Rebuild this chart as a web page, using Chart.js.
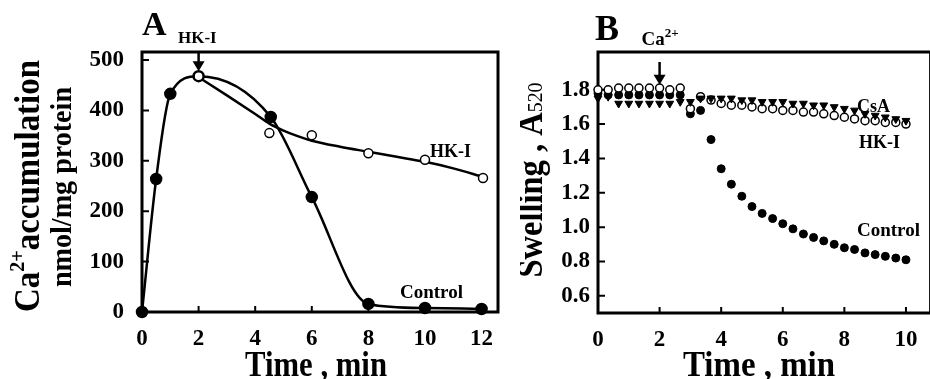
<!DOCTYPE html>
<html>
<head>
<meta charset="utf-8">
<script src="https://cdn.jsdelivr.net/npm/chart.js@4.4.1/dist/chart.umd.min.js"></script>
<style>
  html, body { margin: 0; padding: 0; background: #fff; overflow: hidden; }
  body { width: 930px; height: 379px; position: relative; }
  #wrapA { position: absolute; left: 0; top: 0; width: 510px; height: 379px; }
  #wrapB { position: absolute; left: 520px; top: 0; width: 440px; height: 379px; }
</style>
</head>
<body>
<div id="wrapA"><canvas id="chartA"></canvas></div>
<div id="wrapB"><canvas id="chartB"></canvas></div>
<script>
// panel A: Ca2+ accumulation (nmol/mg protein) vs time (min)
const timeA = [0, 0.5, 1, 2, 4.55, 6, 8, 10, 12];
const controlA = [0, 264, 433, 468, 387, 228, 16, 8, 6];
const timeHkA = [2, 4.5, 6, 8, 10, 12.05];
const hkA = [468, 355, 351, 315, 302, 266];
// the HK-I line is a fitted curve that does not pass through every point
const timeHkFitA = [2, 3, 4, 4.5, 5, 5.5, 6, 7, 8, 9, 10, 11, 12.05];
const hkFitA = [466, 430, 393, 374, 360, 349, 340, 328, 318, 308, 298, 285, 268];
const xTicksA = [0, 2, 4, 6, 8, 10, 12];
const yTicksA = [0, 100, 200, 300, 400, 500];

// panel B: swelling (A520) vs time (min)
const timeB = [0, 0.33, 0.67, 1, 1.33, 1.67, 2, 2.33, 2.67, 3, 3.33, 3.67, 4, 4.33, 4.67, 5,
  5.33, 5.67, 6, 6.33, 6.67, 7, 7.33, 7.67, 8, 8.33, 8.67, 9, 9.33, 9.67, 10];
const controlB = [1.78, 1.77, 1.77, 1.77, 1.77, 1.77, 1.77, 1.77, 1.77, 1.66, 1.68, 1.51, 1.34, 1.25, 1.18, 1.12,
  1.08, 1.05, 1.02, 0.99, 0.96, 0.94, 0.92, 0.90, 0.88, 0.87, 0.85, 0.84, 0.83, 0.82, 0.81];
const hkB = [1.80, 1.80, 1.81, 1.81, 1.81, 1.81, 1.81, 1.80, 1.81, 1.69, 1.76, 1.74, 1.72, 1.71, 1.71, 1.70,
  1.69, 1.69, 1.68, 1.68, 1.67, 1.67, 1.66, 1.65, 1.64, 1.63, 1.62, 1.62, 1.61, 1.61, 1.60];
const csaB = [1.75, 1.76, 1.72, 1.72, 1.72, 1.72, 1.72, 1.72, 1.73, 1.73, 1.75, 1.75, 1.75, 1.75, 1.74, 1.74,
  1.73, 1.73, 1.73, 1.72, 1.72, 1.71, 1.71, 1.70, 1.69, 1.68, 1.66, 1.65, 1.64, 1.63, 1.62];
const xTicksB = [0, 2, 4, 6, 8, 10];
const yTicksB = [0.6, 0.8, 1.0, 1.2, 1.4, 1.6, 1.8];

const serif = "'Liberation Serif', 'DejaVu Serif', serif";
const tickFont = { family: serif, size: 23, weight: 'bold' };

function pts(xs, ys) {
  return xs.map((x, i) => ({ x: x, y: ys[i] }));
}

function fontOf(size, weight) {
  return (weight || 'bold') + ' ' + size + 'px ' + serif;
}

function label(ctx, str, x, y, size) {
  ctx.font = fontOf(size);
  ctx.textAlign = 'left';
  ctx.textBaseline = 'alphabetic';
  ctx.fillStyle = '#000';
  ctx.fillText(str, x, y);
}

// text made of pieces (for super/subscripts), centred on x,y and squeezed to len
function pieces(ctx, parts, x, y, len, rotate) {
  ctx.save();
  ctx.translate(x, y);
  if (rotate) ctx.rotate(-Math.PI / 2);
  let w = 0;
  parts.forEach(p => { ctx.font = fontOf(p.size, p.weight); w += ctx.measureText(p.t).width; });
  const k = len ? Math.min(1, len / w) : 1;
  ctx.scale(k, 1);
  let cx = -w / 2;
  ctx.textAlign = 'left';
  ctx.textBaseline = 'alphabetic';
  ctx.fillStyle = '#000';
  parts.forEach(p => {
    ctx.font = fontOf(p.size, p.weight);
    ctx.fillText(p.t, cx, p.dy || 0);
    cx += ctx.measureText(p.t).width;
  });
  ctx.restore();
}

function arrow(ctx, x, y0, y1) {
  ctx.save();
  ctx.strokeStyle = '#000';
  ctx.fillStyle = '#000';
  ctx.lineWidth = 2.5;
  ctx.beginPath();
  ctx.moveTo(x, y0);
  ctx.lineTo(x, y1 - 9);
  ctx.stroke();
  ctx.beginPath();
  ctx.moveTo(x - 6, y1 - 10);
  ctx.lineTo(x + 6, y1 - 10);
  ctx.lineTo(x, y1);
  ctx.closePath();
  ctx.fill();
  ctx.restore();
}

function frame(chart, xTicks, yTicks) {
  const { ctx, chartArea: a } = chart;
  const sx = chart.scales.x, sy = chart.scales.y;
  ctx.save();
  ctx.strokeStyle = '#000';
  ctx.lineWidth = 3;
  ctx.strokeRect(a.left, a.top, a.right - a.left, a.bottom - a.top);
  ctx.lineWidth = 2;
  ctx.beginPath();
  xTicks.forEach(v => {
    const px = sx.getPixelForValue(v);
    ctx.moveTo(px, a.bottom);
    ctx.lineTo(px, a.bottom - 6);
  });
  yTicks.forEach(v => {
    const py = sy.getPixelForValue(v);
    ctx.moveTo(a.left, py);
    ctx.lineTo(a.left + 7, py);
  });
  ctx.stroke();
  ctx.restore();
}

const overlayA = {
  id: 'overlayA',
  beforeDatasetsDraw(chart) {
    frame(chart, xTicksA, yTicksA);
  },
  afterDraw(chart) {
    const ctx = chart.ctx;
    const sx = chart.scales.x, sy = chart.scales.y;
    label(ctx, 'A', 142, 35, 34);
    label(ctx, 'HK-I', 178, 43, 17);
    arrow(ctx, sx.getPixelForValue(2), chart.chartArea.top, sy.getPixelForValue(478));
    label(ctx, 'HK-I', 430, 157, 18);
    label(ctx, 'Control', 400, 298, 19);
    pieces(ctx, [
      { t: 'Ca', size: 36 },
      { t: '2+', size: 22, dy: -15 },
      { t: 'accumulation', size: 36 }
    ], 39, 186, 252, true);
    pieces(ctx, [{ t: 'nmol/mg protein', size: 30 }], 71, 187, 200, true);
    pieces(ctx, [{ t: 'Time , min', size: 36 }], 316, 376, 142, false);
  }
};

const overlayB = {
  id: 'overlayB',
  beforeDatasetsDraw(chart) {
    frame(chart, xTicksB, yTicksB);
  },
  afterDraw(chart) {
    const ctx = chart.ctx;
    const sx = chart.scales.x, sy = chart.scales.y;
    const off = -520;
    label(ctx, 'B', 595 + off, 40, 36);
    pieces(ctx, [
      { t: 'Ca', size: 19 },
      { t: '2+', size: 13, dy: -8 }
    ], 660 + off, 45, 0, false);
    arrow(ctx, sx.getPixelForValue(2), 62, sy.getPixelForValue(1.83));
    label(ctx, 'CsA', 857 + off, 112, 18);
    label(ctx, 'HK-I', 859 + off, 148, 18);
    label(ctx, 'Control', 857 + off, 236, 19);
    pieces(ctx, [
      { t: 'Swelling , A', size: 36 },
      { t: '520', size: 22, weight: 'normal' }
    ], 542 + off, 180, 195, true);
    pieces(ctx, [{ t: 'Time , min', size: 36 }], 759 + off, 376, 152, false);
  }
};

new Chart(document.getElementById('chartA'), {
  type: 'line',
  data: {
    datasets: [
      {
        label: 'HK-I',
        data: pts(timeHkA, hkA),
        showLine: false,
        pointRadius: 4.5,
        pointBorderWidth: 1.5,
        pointBackgroundColor: '#fff',
        pointBorderColor: '#000',
        clip: false
      },
      {
        label: 'HK-I fit',
        data: pts(timeHkFitA, hkFitA),
        borderColor: '#000',
        borderWidth: 2.5,
        cubicInterpolationMode: 'monotone',
        pointRadius: 0,
        clip: false
      },
      {
        label: 'Control',
        data: pts(timeA, controlA),
        borderColor: '#000',
        borderWidth: 2.5,
        cubicInterpolationMode: 'monotone',
        pointRadius: 5,
        pointBackgroundColor: '#000',
        pointBorderColor: '#000',
        clip: false
      }
    ]
  },
  options: {
    responsive: true,
    maintainAspectRatio: false,
    animation: false,
    layout: { padding: { left: 0, top: 52, right: 12, bottom: 0 } },
    plugins: { legend: { display: false }, tooltip: { enabled: false } },
    scales: {
      x: {
        type: 'linear',
        min: 0,
        max: 12.58,
        afterBuildTicks: axis => { axis.ticks = xTicksA.map(v => ({ value: v })); },
        afterFit: axis => { axis.height = 67; },
        grid: { display: false, drawTicks: false },
        border: { display: false },
        ticks: { font: tickFont, color: '#000', padding: 13, maxRotation: 0 }
      },
      y: {
        min: 0,
        max: 516,
        afterBuildTicks: axis => { axis.ticks = yTicksA.map(v => ({ value: v })); },
        afterFit: axis => { axis.width = 142; },
        grid: { display: false, drawTicks: false },
        border: { display: false },
        ticks: { font: tickFont, color: '#000', padding: 18 }
      }
    }
  },
  plugins: [overlayA]
});

new Chart(document.getElementById('chartB'), {
  type: 'line',
  data: {
    datasets: [
      {
        label: 'CsA',
        data: pts(timeB, csaB),
        showLine: false,
        pointStyle: 'triangle',
        pointRotation: 180,
        pointRadius: 4.5,
        pointBackgroundColor: '#000',
        pointBorderColor: '#000',
        clip: false
      },
      {
        label: 'HK-I',
        data: pts(timeB, hkB),
        showLine: false,
        pointRadius: 4,
        pointBorderWidth: 1.5,
        pointBackgroundColor: '#fff',
        pointBorderColor: '#000',
        clip: false
      },
      {
        label: 'Control',
        data: pts(timeB, controlB),
        showLine: false,
        pointRadius: 4,
        pointBackgroundColor: '#000',
        pointBorderColor: '#000',
        clip: false
      }
    ]
  },
  options: {
    responsive: true,
    maintainAspectRatio: false,
    animation: false,
    layout: { padding: { left: 0, top: 52, right: 29.4, bottom: 0 } },
    plugins: { legend: { display: false }, tooltip: { enabled: false } },
    scales: {
      x: {
        type: 'linear',
        min: 0,
        max: 10.8,
        afterBuildTicks: axis => { axis.ticks = xTicksB.map(v => ({ value: v })); },
        afterFit: axis => { axis.height = 66; },
        grid: { display: false, drawTicks: false },
        border: { display: false },
        ticks: { font: tickFont, color: '#000', padding: 13, maxRotation: 0 }
      },
      y: {
        min: 0.5,
        max: 2.02,
        afterBuildTicks: axis => { axis.ticks = yTicksB.map(v => ({ value: v })); },
        afterFit: axis => { axis.width = 78; },
        grid: { display: false, drawTicks: false },
        border: { display: false },
        ticks: {
          font: tickFont,
          color: '#000',
          padding: 8,
          callback: v => v.toFixed(1)
        }
      }
    }
  },
  plugins: [overlayB]
});
</script>
</body>
</html>
